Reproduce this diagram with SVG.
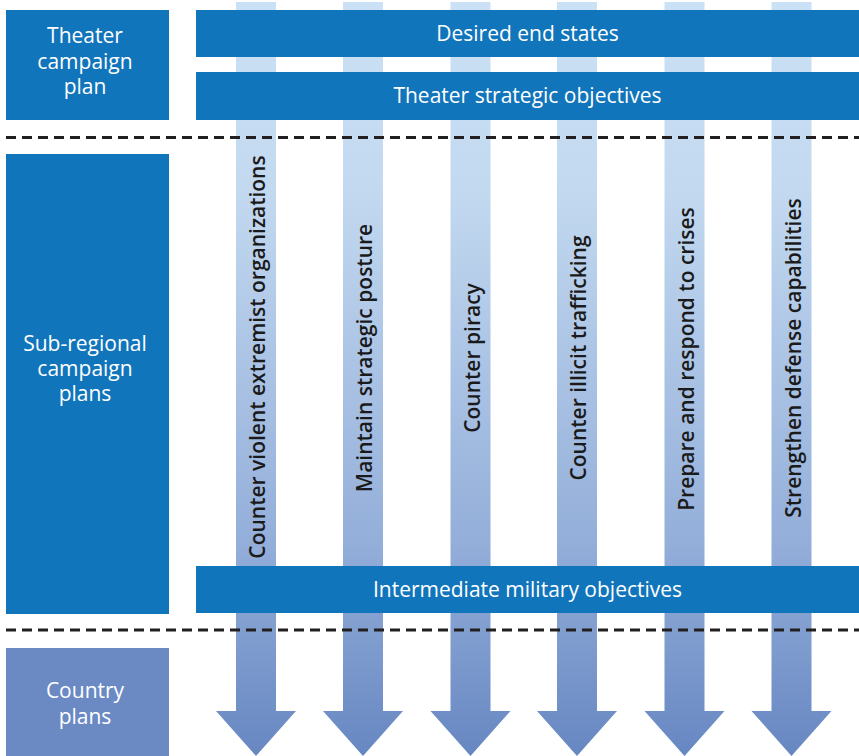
<svg xmlns="http://www.w3.org/2000/svg" width="859" height="756" viewBox="0 0 859 756">
<defs>
<linearGradient id="ag" gradientUnits="userSpaceOnUse" x1="0" y1="0" x2="0" y2="756">
<stop offset="0" stop-color="#cbe1f5"/>
<stop offset="0.25" stop-color="#c3d9f0"/>
<stop offset="0.72" stop-color="#93aed9"/>
<stop offset="1" stop-color="#6787c2"/>
</linearGradient>
<path id="arrow" d="M-20,2 H20 V711 H40 L0,756 L-40,711 H-20 Z" fill="url(#ag)"/>
</defs>
<style>
.dk{fill:#1175bc}
.lt{fill:#6b8ac4}
.wt{fill:#ffffff;font-family:"Open Sans","Noto Sans",sans-serif;font-size:21px;text-anchor:middle}
.vt{fill:#1a1a1a;font-family:"Open Sans","Noto Sans",sans-serif;font-size:21px;font-weight:600;text-anchor:middle}
.dash{stroke:#231f20;stroke-width:3;stroke-dasharray:10 6;fill:none}
</style>
<rect width="859" height="756" fill="#ffffff"/>
<g id="connectors">
<use href="#arrow" x="256"/>
<use href="#arrow" x="363"/>
<use href="#arrow" x="470.5"/>
<use href="#arrow" x="577"/>
<use href="#arrow" x="684.5"/>
<use href="#arrow" x="791.5"/>
</g>
<g id="theater-campaign-plan">
<rect class="dk" x="6" y="10" width="163" height="110"/>
<text class="wt" x="85" y="43">Theater</text>
<text class="wt" x="85" y="69">campaign</text>
<text class="wt" x="85" y="94">plan</text>
</g>
<g id="sub-regional-campaign-plans">
<rect class="dk" x="6" y="154" width="163" height="460"/>
<text class="wt" x="85" y="351">Sub-regional</text>
<text class="wt" x="85" y="376">campaign</text>
<text class="wt" x="85" y="401">plans</text>
</g>
<g id="country-plans">
<rect class="lt" x="6" y="648" width="163" height="108"/>
<text class="wt" x="85" y="698">Country</text>
<text class="wt" x="85" y="724">plans</text>
</g>
<g id="desired-end-states">
<rect class="dk" x="196" y="10" width="663" height="47"/>
<text class="wt" x="527.5" y="41">Desired end states</text>
</g>
<g id="theater-strategic-objectives">
<rect class="dk" x="196" y="72" width="663" height="48"/>
<text class="wt" x="527.5" y="103">Theater strategic objectives</text>
</g>
<g id="intermediate-military-objectives">
<rect class="dk" x="196" y="566" width="663" height="47"/>
<text class="wt" x="527.5" y="597">Intermediate military objectives</text>
</g>
<g id="dividers">
<line class="dash" x1="6" y1="137.5" x2="859" y2="137.5"/>
<line class="dash" x1="6" y1="630" x2="859" y2="630"/>
</g>
<g id="lines-of-effort">
<text class="vt" transform="translate(265,357) rotate(-90)">Counter violent extremist organizations</text>
<text class="vt" transform="translate(372,358) rotate(-90)">Maintain strategic posture</text>
<text class="vt" transform="translate(479.5,358) rotate(-90)">Counter piracy</text>
<text class="vt" transform="translate(586,358) rotate(-90)">Counter illicit trafficking</text>
<text class="vt" transform="translate(693.5,359) rotate(-90)">Prepare and respond to crises</text>
<text class="vt" transform="translate(800.5,358) rotate(-90)">Strengthen defense capabilities</text>
</g>
</svg>
